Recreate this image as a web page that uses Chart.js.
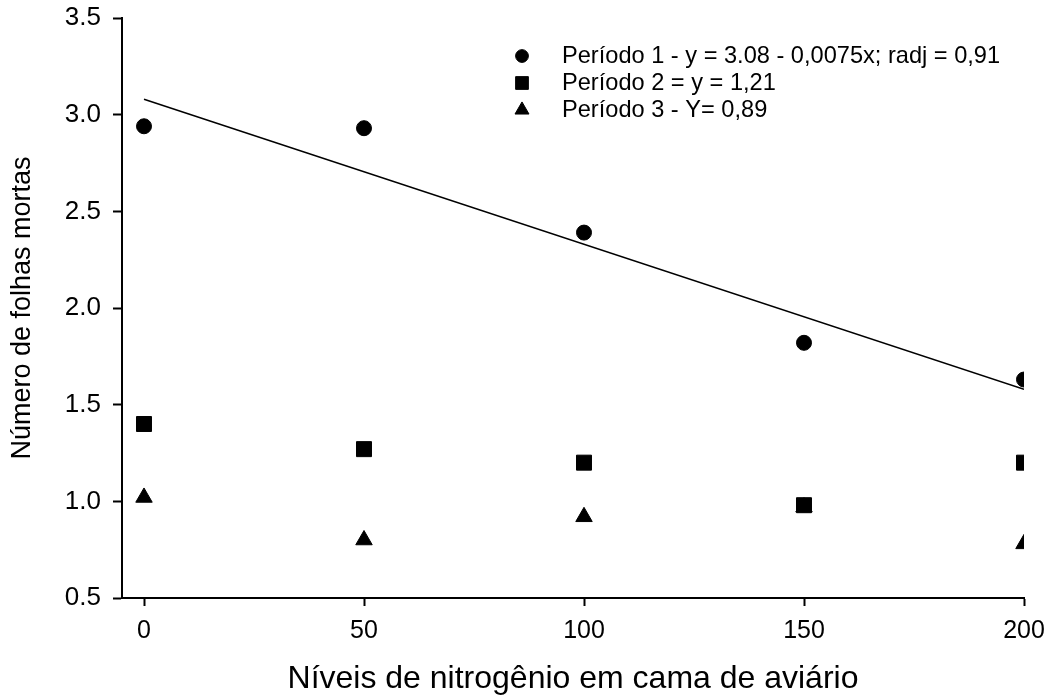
<!DOCTYPE html>
<html>
<head>
<meta charset="utf-8">
<script src="https://cdn.jsdelivr.net/npm/chart.js@4.4.1/dist/chart.umd.min.js"></script>
<style>
  html, body { margin: 0; padding: 0; background: #fff; }
  #wrap { width: 1048px; height: 695px; }
</style>
</head>
<body>
<div id="wrap"><canvas id="chart"></canvas></div>
<script>
// nitrogen levels (x) and the three periods
const nitrogenLevels = [0, 50, 100, 150, 200];
const periodo1 = [2.94, 2.93, 2.39, 1.82, 1.63];
const periodo2 = [1.40, 1.27, 1.20, 0.98, 1.20];
const periodo3 = [1.02, 0.80, 0.92, 0.97, 0.78];

// fitted line for period 1 (end points of y = 3.08 - 0.0075x)
const trendX = [0, 200];
const trendY = [3.08, 1.58];

const legendLabels = [
  "Período 1 - y = 3.08 - 0,0075x; radj = 0,91",
  "Período 2 = y = 1,21",
  "Período 3 - Y= 0,89",
];

const yTicks = [0.5, 1.0, 1.5, 2.0, 2.5, 3.0, 3.5];
const xTicks = [0, 50, 100, 150, 200];

const FONT = "'Liberation Sans', Arial, sans-serif";

function toPoints(xs, ys) {
  return xs.map((x, i) => ({ x, y: ys[i] }));
}

// legend drawn inside the plot, top right
const innerLegend = {
  id: "innerLegend",
  afterDraw(chart) {
    const ctx = chart.ctx;
    const markerX = 522;
    const textX = 562;
    const rowY = [56, 83, 110];
    ctx.save();
    ctx.font = "23.6px " + FONT;
    ctx.textBaseline = "middle";
    ctx.textAlign = "left";
    [0, 1, 2].forEach((i) => {
      const ds = chart.data.datasets[i];
      const style = {
        pointStyle: ds.pointStyle,
        radius: ds.pointRadius * 0.85,
        borderWidth: 1,
        rotation: 0,
      };
      ctx.fillStyle = "#000";
      ctx.strokeStyle = "#000";
      Chart.helpers.drawPoint(ctx, style, markerX, rowY[i]);
      ctx.fillStyle = "#000";
      ctx.fillText(legendLabels[i], textX, rowY[i]);
    });
    ctx.restore();
  },
};

new Chart(document.getElementById("chart"), {
  type: "scatter",
  data: {
    datasets: [
      {
        label: legendLabels[0],
        data: toPoints(nitrogenLevels, periodo1),
        pointStyle: "circle",
        pointRadius: 7.5,
        backgroundColor: "#000",
        borderColor: "#000",
        borderWidth: 1,
      },
      {
        label: legendLabels[1],
        data: toPoints(nitrogenLevels, periodo2),
        pointStyle: "rect",
        pointRadius: 10.6,
        backgroundColor: "#000",
        borderColor: "#000",
        borderWidth: 1,
      },
      {
        label: legendLabels[2],
        data: toPoints(nitrogenLevels, periodo3),
        pointStyle: "triangle",
        pointRadius: 9.5,
        backgroundColor: "#000",
        borderColor: "#000",
        borderWidth: 1,
      },
      {
        type: "line",
        label: "ajuste",
        data: toPoints(trendX, trendY),
        borderColor: "#000",
        borderWidth: 1.5,
        pointRadius: 0,
        fill: false,
      },
    ],
  },
  options: {
    responsive: true,
    maintainAspectRatio: false,
    animation: false,
    layout: { padding: { top: 18, right: 24, left: 0, bottom: 0 } },
    plugins: {
      legend: { display: false },
      tooltip: { enabled: false },
    },
    scales: {
      x: {
        type: "linear",
        min: -5,
        max: 200,
        afterBuildTicks: (scale) => {
          scale.ticks = xTicks.map((v) => ({ value: v }));
        },
        afterFit: (scale) => {
          scale.height = 97;
          scale.paddingLeft = 0;
          scale.paddingRight = 0;
        },
        ticks: {
          color: "#000",
          padding: 10,
          font: { family: FONT, size: 25 },
        },
        grid: {
          drawOnChartArea: false,
          drawTicks: true,
          tickLength: 8,
          tickWidth: 2,
          tickColor: "#000",
        },
        border: { color: "#000", width: 2 },
        title: {
          display: true,
          text: "Níveis de nitrogênio em cama de aviário",
          color: "#000",
          font: { family: FONT, size: 32 },
          padding: { top: 0, bottom: -3 },
        },
      },
      y: {
        type: "linear",
        min: 0.5,
        max: 3.5,
        afterBuildTicks: (scale) => {
          scale.ticks = yTicks.map((v) => ({ value: v }));
        },
        afterFit: (scale) => {
          scale.width = 122;
          scale.paddingTop = 0;
          scale.paddingBottom = 0;
        },
        ticks: {
          color: "#000",
          padding: 12,
          font: { family: FONT, size: 26 },
          callback: (v) => Number(v).toFixed(1),
        },
        grid: {
          drawOnChartArea: false,
          drawTicks: true,
          tickLength: 9,
          tickWidth: 2,
          tickColor: "#000",
        },
        border: { color: "#000", width: 2 },
        title: {
          display: true,
          text: "Número de folhas mortas",
          color: "#000",
          font: { family: FONT, size: 27 },
          padding: { top: 6, bottom: 0 },
        },
      },
    },
  },
  plugins: [innerLegend],
});
</script>
</body>
</html>
